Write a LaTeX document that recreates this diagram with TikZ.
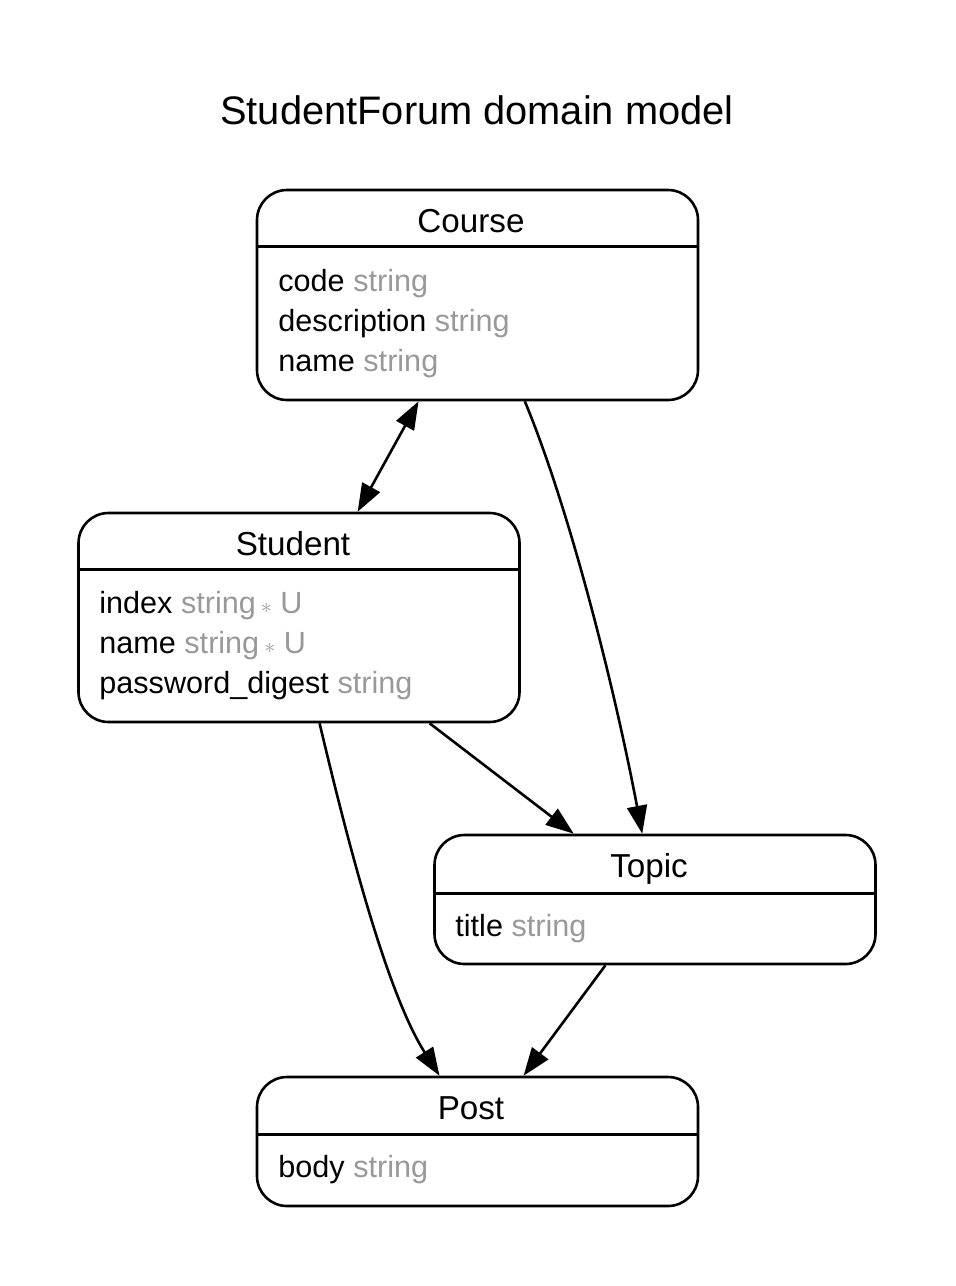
\documentclass[tikz,border=0pt]{standalone}
\usepackage{fontspec}
\setmainfont{Liberation Sans}
\usetikzlibrary{arrows.meta,calc}
\definecolor{typegray}{HTML}{999999}
\tikzset{
  entity/.style={draw, line width=1.3pt, rounded corners=15pt, inner sep=0pt, minimum width=220.5pt},
  entitytitle/.style={font=\fontsize{16.6}{20}\selectfont, inner sep=0pt, anchor=base},
  attrs/.style={font=\fontsize{15.3}{20}\selectfont, align=left, inner sep=0pt, anchor=north west},
  rel/.style={line width=1.3pt}
}
\newcommand{\tp}[1]{\textcolor{typegray}{#1}}
\newcommand{\uq}{\,{\fontsize{11}{11}\selectfont$\ast$}}

\begin{document}
\begin{tikzpicture}[x=0.5pt, y=-0.5pt, >={Triangle[length=14pt,width=10pt]}]
\useasboundingbox (0,0) rectangle (956,1286);

% Title
\node[font=\fontsize{19.9}{24}\selectfont] (title) at (477,110) {StudentForum domain model};

% Course
\node[entity, minimum height=105pt] (course) at (477.5,295) {};
\draw[rel] ($(course.north west)+(0,58)$) -- ($(course.north east)+(0,58)$);
\node[entitytitle] (course-title) at (471,232) {Course};
\node[attrs] (course-attrs) at (278,269) {code \tp{string}\\description \tp{string}\\name \tp{string}};

% Student
\node[entity, minimum height=104.5pt] (student) at (299,617.5) {};
\draw[rel] ($(student.north west)+(0,58)$) -- ($(student.north east)+(0,58)$);
\node[entitytitle] (student-title) at (293,555) {Student};
\node[attrs] (student-attrs) at (99,591) {index \tp{string\uq{} U}\\name \tp{string\uq{} U}\\password\_digest \tp{string}};

% Topic
\node[entity, minimum height=64.5pt] (topic) at (655,899.5) {};
\draw[rel] ($(topic.north west)+(0,60)$) -- ($(topic.north east)+(0,60)$);
\node[entitytitle] (topic-title) at (649,877) {Topic};
\node[attrs] (topic-attrs) at (455,914) {title \tp{string}};

% Post
\node[entity, minimum height=64.5pt] (post) at (477.5,1141.5) {};
\draw[rel] ($(post.north west)+(0,59)$) -- ($(post.north east)+(0,59)$);
\node[entitytitle] (post-title) at (471,1119) {Post};
\node[attrs] (post-attrs) at (278,1155) {body \tp{string}};

% Relations
\draw[rel, <->] (course.241) -- (student.61);
\draw[rel, ->] (course.294) .. controls (570,510) and (615,690) .. (topic.101);
\draw[rel, ->] (student.321) -- (topic.141);
\draw[rel, ->] (student.281) .. controls (345,830) and (385,990) .. (post.120);
\draw[rel, ->] (topic.233) -- (post.55);

\end{tikzpicture}
\end{document}
